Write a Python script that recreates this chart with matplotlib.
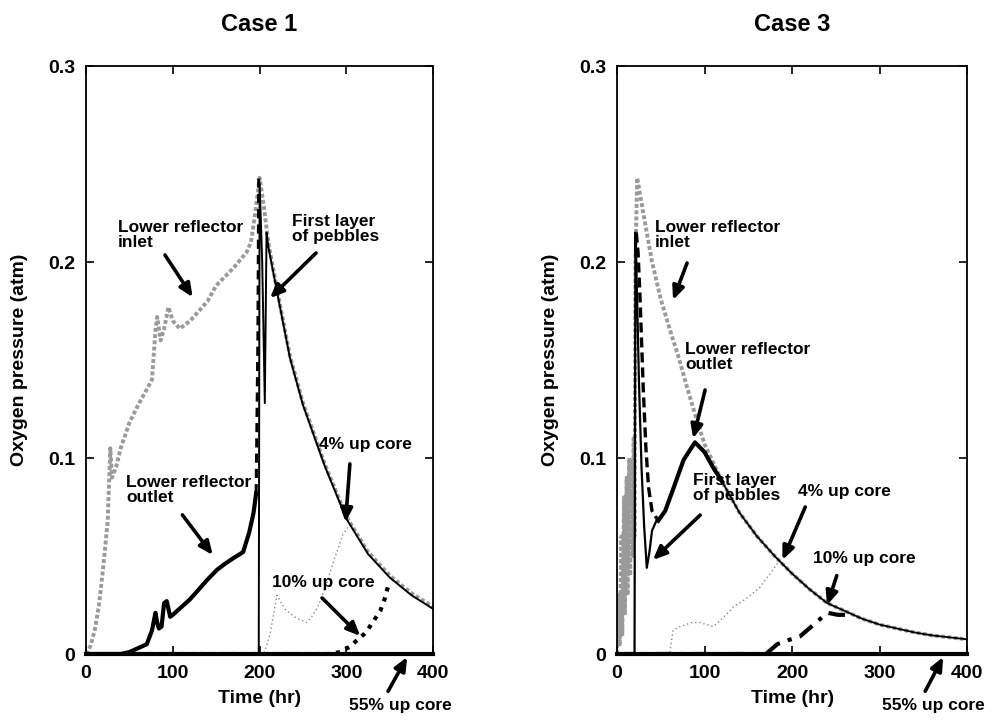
import numpy as np
import matplotlib
matplotlib.use("Agg")
import matplotlib.pyplot as plt

plt.rcParams['font.family'] = ['Liberation Sans', 'DejaVu Sans']
plt.rcParams['font.weight'] = 'bold'

# ---------------- Case 1 data ----------------
c1_inlet_t = [0, 5, 10, 15, 20, 25, 28, 30, 35, 40, 50, 60, 70, 76, 80, 82, 86, 90, 95, 100, 108,
              120, 140, 150, 170, 185, 190, 195, 200, 205, 210, 220, 235, 250, 275, 300, 325, 350, 375, 400]
c1_inlet_y = [0, 0.004, 0.012, 0.025, 0.045, 0.068, 0.105, 0.09, 0.096, 0.105, 0.118, 0.127, 0.135, 0.14,
              0.165, 0.172, 0.16, 0.166, 0.177, 0.170, 0.166, 0.170, 0.180, 0.188, 0.197, 0.205, 0.210,
              0.225, 0.243, 0.228, 0.210, 0.186, 0.152, 0.128, 0.097, 0.070, 0.052, 0.040, 0.031, 0.024]

c1_outlet_t = [0, 40, 50, 60, 70, 76, 80, 82, 84, 87, 90, 93, 97, 100, 110, 120, 130, 140, 151,
               160, 170, 181, 188, 193, 196, 198, 199]
c1_outlet_y = [0, 0, 0.001, 0.003, 0.005, 0.012, 0.021, 0.016, 0.013, 0.014, 0.026, 0.027, 0.019, 0.020,
               0.024, 0.028, 0.033, 0.038, 0.043, 0.046, 0.049, 0.052, 0.062, 0.072, 0.082, 0.160, 0.245]
c1_outlet_dash_from = 196  # outlet drawn dashed from this time on

c1_layer_t = [0, 199, 200, 203, 206, 208, 210, 220, 235, 250, 275, 300, 325, 350, 375, 400]
c1_layer_y = [0, 0, 0.240, 0.200, 0.128, 0.215, 0.208, 0.185, 0.151, 0.127, 0.096, 0.069, 0.051, 0.039, 0.030, 0.023]

c1_up4_t = [0, 205, 212, 220, 229, 240, 254, 260, 267, 275, 285, 296, 304]
c1_up4_y = [0, 0, 0.010, 0.030, 0.023, 0.019, 0.016, 0.019, 0.024, 0.033, 0.047, 0.061, 0.066]

c1_up10_t = [0, 280, 293, 305, 312, 320, 327, 333, 339, 344, 347, 350]
c1_up10_y = [0, 0, 0.001, 0.004, 0.007, 0.010, 0.014, 0.018, 0.022, 0.028, 0.033, 0.037]

c1_up55_t = [0, 400]
c1_up55_y = [0, 0]

# ---------------- Case 3 data ----------------
c3_inlet_t = [0, 2, 3, 5, 6, 8, 9, 11, 12, 14, 15, 17, 18, 19, 20, 21, 23, 30, 40, 50, 60, 70, 80, 90,
              100, 120, 140, 160, 180, 200, 220, 240, 260, 280, 300, 320, 340, 360, 380, 400]
c3_inlet_y = [0, 0.030, 0.004, 0.060, 0.010, 0.080, 0.020, 0.090, 0.030, 0.100, 0.040, 0.100, 0.050,
              0.110, 0.060, 0.200, 0.243, 0.225, 0.200, 0.181, 0.166, 0.152, 0.136, 0.121, 0.107, 0.088,
              0.072, 0.060, 0.050, 0.041, 0.033, 0.026, 0.022, 0.018, 0.015, 0.013, 0.011, 0.0095,
              0.0085, 0.0075]

c3_outlet_t = [22, 24, 26, 28, 30, 33, 36, 40, 47, 55, 64, 76, 89, 100, 110, 120, 140, 160, 180, 200,
               220, 240, 260, 280, 300, 320, 340, 360, 380, 400]
c3_outlet_y = [0.215, 0.205, 0.185, 0.160, 0.135, 0.105, 0.085, 0.073, 0.068, 0.073, 0.084, 0.099, 0.108,
               0.103, 0.095, 0.088, 0.072, 0.060, 0.050, 0.041, 0.033, 0.026, 0.022, 0.018, 0.015, 0.013,
               0.011, 0.0095, 0.0085, 0.0075]
c3_outlet_solid_from = 45   # outlet drawn solid from this time on
c3_outlet_merge_at = 120    # outlet merges with the inlet curve from here

c3_layer_t = [0, 20, 21, 23, 25, 28, 31, 34, 37, 40, 45]
c3_layer_y = [0, 0, 0.215, 0.180, 0.140, 0.095, 0.065, 0.044, 0.052, 0.063, 0.068]

c3_up4_t = [0, 60, 64, 72, 85, 95, 110, 120, 133, 150, 163, 175, 186]
c3_up4_y = [0, 0, 0.012, 0.014, 0.016, 0.016, 0.014, 0.018, 0.024, 0.029, 0.034, 0.041, 0.048]

c3_up10_t = [0, 170, 183, 195, 209, 222, 235, 241, 252, 263]
c3_up10_y = [0, 0, 0.005, 0.007, 0.009, 0.014, 0.019, 0.021, 0.020, 0.020]

c3_up55_t = [0, 400]
c3_up55_y = [0, 0]

x_ticks = [0, 100, 200, 300, 400]
y_ticks = [0, 0.1, 0.2, 0.3]
y_ticklabels = ['0', '0.1', '0.2', '0.3']

GRAY = '#9a9a9a'


def style_axes(ax, title):
    ax.set_xlim(0, 400)
    ax.set_ylim(0, 0.3)
    ax.set_xticks(x_ticks)
    ax.set_xticklabels([str(v) for v in x_ticks])
    ax.set_yticks(y_ticks)
    ax.set_yticklabels(y_ticklabels)
    ax.tick_params(direction='in', top=True, right=True, length=6, width=1.2,
                   labelsize=14, pad=8)
    for lab in ax.get_xticklabels() + ax.get_yticklabels():
        lab.set_fontweight('bold')
    for sp in ax.spines.values():
        sp.set_linewidth(1.3)
    ax.set_xlabel('Time (hr)', fontsize=14, fontweight='bold', labelpad=6)
    ax.set_ylabel('Oxygen pressure (atm)', fontsize=14, fontweight='bold', labelpad=14)
    ax.set_title(title, fontsize=17, fontweight='bold', pad=25)


def annotate(ax, text, xy, xytext, tpos, ha='left', va='top'):
    ax.annotate('', xy=xy, xytext=xytext, annotation_clip=False,
                arrowprops=dict(arrowstyle='-|>,head_length=0.8,head_width=0.35',
                                lw=2.6, color='black', shrinkA=0, shrinkB=0))
    ax.text(tpos[0], tpos[1], text, fontsize=12.5, fontweight='bold', ha=ha, va=va,
            linespacing=1.0, clip_on=False)


fig = plt.figure(figsize=(9.92, 7.23), dpi=100)
ax1 = fig.add_axes([0.0867, 0.0954, 0.350, 0.8133])
ax3 = fig.add_axes([0.622, 0.0954, 0.353, 0.8133])

# ---- Case 1 ----
t = np.array(c1_outlet_t); y = np.array(c1_outlet_y)
ax1.plot(c1_inlet_t, c1_inlet_y, color=GRAY, lw=2.8, ls=(0, (1, 0.6)), zorder=2)
ax1.plot(c1_up4_t, c1_up4_y, color='#888888', lw=1.0, ls=(0, (1, 2)), zorder=3)
ax1.plot(c1_up10_t, c1_up10_y, color='black', lw=3.0, ls=(0, (1, 1.5)), zorder=4)
ax1.plot(c1_up55_t, c1_up55_y, color='black', lw=3.0, zorder=4, clip_on=False)
m = t <= c1_outlet_dash_from
ax1.plot(t[m], y[m], color='black', lw=3.0, zorder=5)
m2 = t >= c1_outlet_dash_from
ax1.plot(t[m2], y[m2], color='black', lw=2.2, ls=(0, (3, 2)), zorder=5)
ax1.plot(c1_layer_t, c1_layer_y, color='black', lw=1.4, zorder=4)
style_axes(ax1, 'Case 1')

annotate(ax1, 'Lower reflector\ninlet', (123, 0.182), (91, 0.2036), (37, 0.2215))
annotate(ax1, 'First layer\nof pebbles', (212, 0.1816), (265, 0.2046), (237, 0.2245))
annotate(ax1, 'Lower reflector\noutlet', (146, 0.0505), (111, 0.071), (46, 0.0915))
annotate(ax1, '4% up core', (299, 0.0673), (304, 0.097), (269, 0.1105))
annotate(ax1, '10% up core', (316, 0.0092), (272, 0.0286), (214, 0.0405))
annotate(ax1, '55% up core', (370, -0.0015), (348, -0.019), (362, -0.0225), ha='center')

# ---- Case 3 ----
t = np.array(c3_outlet_t); y = np.array(c3_outlet_y)
ax3.plot(c3_inlet_t, c3_inlet_y, color=GRAY, lw=2.8, ls=(0, (1, 0.6)), zorder=2)
ax3.plot(c3_up4_t, c3_up4_y, color='#888888', lw=1.0, ls=(0, (1, 2)), zorder=3)
ax3.plot(c3_up10_t, c3_up10_y, color='black', lw=3.0, ls=(0, (4, 2, 1, 2)), zorder=4)
ax3.plot(c3_up55_t, c3_up55_y, color='black', lw=3.0, zorder=4, clip_on=False)
m = t <= c3_outlet_solid_from + 2
ax3.plot(t[m], y[m], color='black', lw=2.4, ls=(0, (3, 1.5)), zorder=5)
m2 = (t >= c3_outlet_solid_from) & (t <= c3_outlet_merge_at)
ax3.plot(t[m2], y[m2], color='black', lw=3.0, zorder=5)
m3 = t >= c3_outlet_merge_at
ax3.plot(t[m3], y[m3], color='black', lw=1.3, zorder=5)
ax3.plot(c3_layer_t, c3_layer_y, color='black', lw=1.6, zorder=4)
style_axes(ax3, 'Case 3')

annotate(ax3, 'Lower reflector\ninlet', (64, 0.1806), (80, 0.1995), (43, 0.2215))
annotate(ax3, 'Lower reflector\noutlet', (87, 0.110), (100.6, 0.1347), (78, 0.159))
annotate(ax3, 'First layer\nof pebbles', (41, 0.048), (95, 0.0709), (87, 0.0925))
annotate(ax3, '4% up core', (189, 0.048), (215, 0.075), (207, 0.0865))
annotate(ax3, '10% up core', (240, 0.025), (251, 0.040), (224, 0.0525))
annotate(ax3, '55% up core', (372.6, -0.0015), (352, -0.019), (361, -0.0225), ha='center')

fig.savefig('out.png', dpi=100)
